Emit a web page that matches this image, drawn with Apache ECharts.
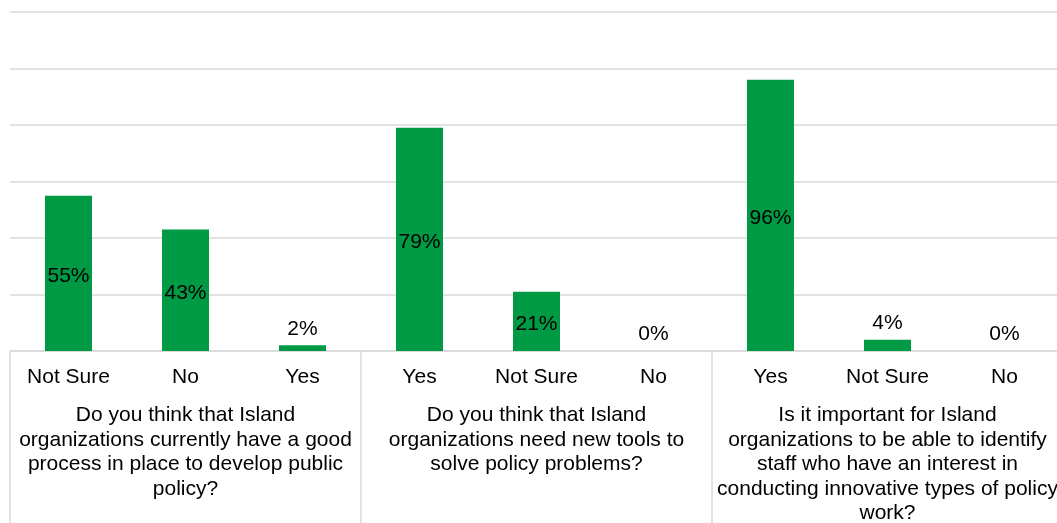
<!DOCTYPE html>
<html>
<head>
<meta charset="utf-8">
<script src="https://cdn.jsdelivr.net/npm/echarts@6/dist/echarts.min.js"></script>
<style>
  html, body { margin: 0; padding: 0; background: #fff; }
  #chart { width: 1057px; height: 523px; }
</style>
</head>
<body>
<div id="chart"></div>
<script>
// Answer options, in the order they appear under each question
const answers = ['Not Sure', 'No', 'Yes', 'Yes', 'Not Sure', 'No', 'Yes', 'Not Sure', 'No'];
// Share of respondents (%) for each answer
const shares = [55, 43, 2, 79, 21, 0, 96, 4, 0];
// The three survey questions, each spanning three answers
const questions = [
  'Do you think that Island\norganizations currently have a good\nprocess in place to develop public\npolicy?',
  'Do you think that Island\norganizations need new tools to\nsolve policy problems?',
  'Is it important for Island\norganizations to be able to identify\nstaff who have an interest in\nconducting innovative types of policy\nwork?'
];

const FONT = '"Liberation Sans", Arial, sans-serif';
const GREEN = '#009944';
const GRID = '#d9d9d9';

const chart = echarts.init(document.getElementById('chart'), null, { renderer: 'canvas' });

chart.setOption({
  animation: false,
  backgroundColor: '#fff',
  grid: { left: 10, top: 12, right: -6, bottom: 172, containLabel: false, outerBoundsMode: 'none' },
  xAxis: [
    {
      type: 'category',
      data: answers,
      position: 'bottom',
      offset: 0,
      axisLine: { show: true, lineStyle: { color: GRID, width: 1.5 } },
      axisTick: { show: false },
      axisLabel: {
        interval: 0,
        margin: 14,
        color: '#000',
        fontFamily: FONT,
        fontSize: 21,
        lineHeight: 24
      }
    },
    {
      type: 'category',
      data: questions,
      position: 'bottom',
      offset: 0,
      axisLine: { show: false },
      axisTick: { show: true, length: 175, lineStyle: { color: GRID, width: 1.5 } },
      axisLabel: {
        interval: 0,
        margin: 52,
        color: '#000',
        fontFamily: FONT,
        fontSize: 21,
        lineHeight: 24.6,
        align: 'center'
      }
    }
  ],
  yAxis: {
    type: 'value',
    min: 0,
    max: 120,
    interval: 20,
    axisLabel: { show: false },
    axisLine: { show: false },
    axisTick: { show: false },
    splitLine: { show: true, lineStyle: { color: GRID, width: 1.5 } }
  },
  series: [
    {
      type: 'bar',
      xAxisIndex: 0,
      barWidth: 47,
      itemStyle: { color: GREEN },
      data: shares.map(v => ({
        value: v,
        label: {
          show: true,
          position: v > 10 ? 'inside' : 'top',
          offset: v > 10 ? [0, 3] : [0, 0],
          distance: 6,
          formatter: '{c}%',
          color: '#000',
          fontFamily: FONT,
          fontSize: 21
        }
      }))
    }
  ]
});
</script>
</body>
</html>
